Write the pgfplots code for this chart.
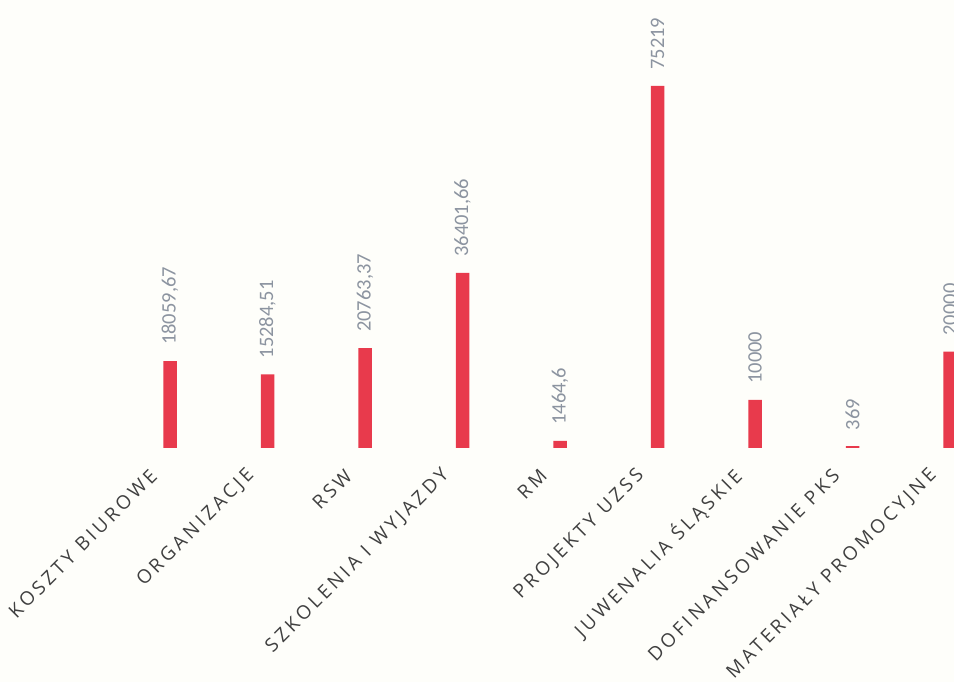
\documentclass[border=0pt]{standalone}
\usepackage{fontspec}
\setmainfont{Open Sans}
\newfontfamily\catfont[LetterSpace=18]{Open Sans}
\newfontfamily\numfont{Carlito}
\usepackage{pgfplots}
\pgfplotsset{compat=1.18}
\usepackage{pgfplotstable}
\definecolor{barred}{RGB}{232,58,76}
\definecolor{lblgray}{RGB}{140,148,160}
\definecolor{catgray}{RGB}{64,64,64}
\definecolor{paper}{RGB}{254,254,250}

% costs per category, labels written with decimal comma
\pgfplotstableread{
x y label
0 18059.67 18059,67
1 15284.51 15284,51
2 20763.37 20763,37
3 36401.66 36401,66
4 1464.6 1464,6
5 75219 75219
6 10000 10000
7 369 369
8 20000 20000
}\costs

\begin{document}
\begin{tikzpicture}
\useasboundingbox (0,-210pt) rectangle (954pt,472pt);
\fill[paper] (0,-210pt) rectangle (954pt,472pt);
\clip (0,-210pt) rectangle (954pt,472pt);
\begin{axis}[
  at={(0,0)}, anchor=south west,
  scale only axis, width=954pt, height=472pt,
  xmin=-1.74359, xmax=8.04103,
  ymin=-4987, ymax=93081,
  axis line style={draw=none},
  tick style={draw=none},
  ytick=\empty,
  xtick={0,...,8},
  xticklabels={KOSZTY BIUROWE, ORGANIZACJE, RSW, SZKOLENIA I WYJAZDY, RM, PROJEKTY UZSS, JUWENALIA ŚLĄSKIE, DOFINANSOWANIE PKS, MATERIAŁY PROMOCYJNE},
  xticklabel style={xshift=-14pt, yshift=6pt, rotate=45, anchor=east, font=\catfont\fontsize{19}{21}\selectfont, text=catgray},
  clip=false,
  ybar, bar width=13.5pt,
  point meta=explicit symbolic,
  nodes near coords,
  every node near coord/.append style={rotate=90, anchor=west, inner xsep=16pt, inner ysep=0pt, font=\numfont\fontsize{20.5}{22}\selectfont, text=lblgray},
]
\addplot[fill=barred, draw=none] table[x=x, y=y, meta=label] {\costs};
\end{axis}
\end{tikzpicture}
\end{document}
